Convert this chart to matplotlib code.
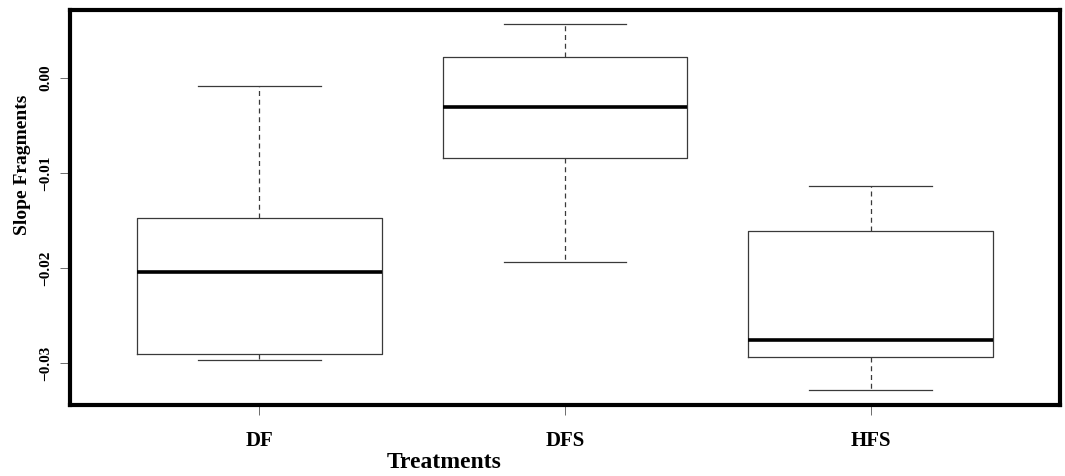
import numpy as np
import matplotlib
matplotlib.use('Agg')
import matplotlib.pyplot as plt

plt.rcParams['font.family'] = ['Liberation Serif', 'DejaVu Serif']
plt.rcParams['font.weight'] = 'bold'

# box statistics
groups = ['DF', 'DFS', 'HFS']
whisk_lo = [-0.02965, -0.01933, -0.03280]
q1 = [-0.02902, -0.00840, -0.02931]
med = [-0.02041, -0.00311, -0.02758]
q3 = [-0.01477, 0.00221, -0.01607]
whisk_hi = [-0.00087, 0.00561, -0.01138]
yticks = [-0.03, -0.02, -0.01, 0.00]

stats = []
for i, g in enumerate(groups):
    stats.append(dict(label=g, whislo=whisk_lo[i], q1=q1[i], med=med[i],
                      q3=q3[i], whishi=whisk_hi[i], fliers=[]))

fig = plt.figure(figsize=(10.65, 4.76), dpi=100)
ax = fig.add_axes([70/1065, 1-405/476, 990/1065, 395/476])

edge = '#3a3a3a'
ax.bxp(stats, positions=[1, 2, 3], widths=0.8, showfliers=False,
       boxprops=dict(color=edge, linewidth=0.9),
       medianprops=dict(color='black', linewidth=2.6, solid_capstyle='butt'),
       whiskerprops=dict(color=edge, linewidth=0.9, linestyle=(0, (4, 3))),
       capprops=dict(color=edge, linewidth=0.9),
       capwidths=0.4)

ax.set_xlim(0.38, 3.62)
ax.set_ylim(-0.03438, 0.00711)
for s in ax.spines.values():
    s.set_linewidth(3)
    s.set_color('black')

ax.set_yticks(yticks)
ax.set_yticklabels([('%.2f' % v).replace('-', '\u2212') for v in yticks],
                   rotation=90, va='center', fontsize=11, fontweight='bold')
ax.set_xticks([1, 2, 3])
ax.set_xticklabels(groups, fontsize=15, fontweight='bold')
ax.tick_params(axis='y', length=7, width=0.6, color='#555555', pad=6)
ax.tick_params(axis='x', length=7, width=0.6, color='#555555', pad=12)

fig.text(444/1065, 1-463/476, 'Treatments', ha='center', va='center',
         fontsize=17, fontweight='bold')
fig.text(23/1065, 1-165/476, 'Slope Fragments', ha='center', va='center',
         rotation=90, fontsize=14, fontweight='bold')

fig.savefig('out.png', dpi=100)
